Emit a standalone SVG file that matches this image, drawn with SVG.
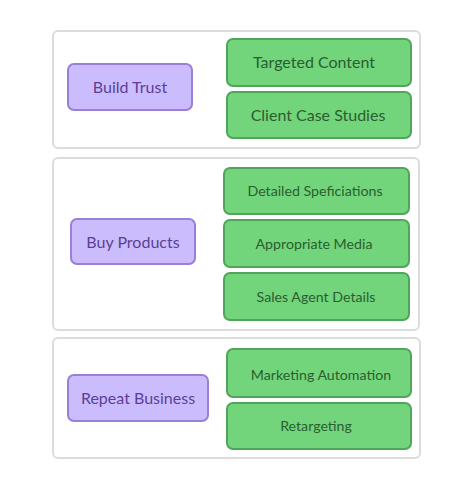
<svg xmlns="http://www.w3.org/2000/svg" width="474" height="489" viewBox="0 0 474 489">
<style>
.bg{fill:#ffffff}
.grp{fill:#ffffff;stroke:#dcdcdc;stroke-width:2}
.p{fill:#cbbdfd;stroke:#9a7fd6;stroke-width:2}
.g{fill:#72d47b;stroke:#4fa65a;stroke-width:2}
.pt{fill:#5b3f96;font-family:Lato,"Open Sans",sans-serif;font-size:16px;text-anchor:middle;dominant-baseline:central}
.gt{fill:#2b5e2f;font-family:Lato,"Open Sans",sans-serif;font-size:16px;text-anchor:middle;dominant-baseline:central}
.s{font-size:14.2px}
</style>
<rect class="bg" x="0" y="0" width="474" height="489"/>
<g id="group-build-trust">
<rect class="grp" x="53" y="31" width="367" height="117" rx="5"/>
</g>
<g id="group-buy-products">
<rect class="grp" x="53" y="158" width="366" height="172" rx="5"/>
</g>
<g id="group-repeat-business">
<rect class="grp" x="53" y="338" width="367" height="120" rx="5"/>
</g>
<g id="build-trust">
<rect class="p" x="68" y="64" width="124" height="46" rx="6"/>
<text class="pt" x="130" y="86.5">Build Trust</text>
</g>
<g id="targeted-content">
<rect class="g" x="227" y="39" width="184" height="47" rx="6"/>
<text class="gt" x="314" y="61.5">Targeted Content</text>
</g>
<g id="client-case-studies">
<rect class="g" x="227" y="92" width="184" height="46" rx="6"/>
<text class="gt" x="318" y="114.5">Client Case Studies</text>
</g>
<g id="buy-products">
<rect class="p" x="71" y="219" width="124" height="45" rx="6"/>
<text class="pt" x="133" y="241">Buy Products</text>
</g>
<g id="detailed-speficiations">
<rect class="g" x="224" y="168" width="185" height="46" rx="6"/>
<text class="gt s" x="315" y="190.5">Detailed Speficiations</text>
</g>
<g id="appropriate-media">
<rect class="g" x="224" y="220" width="185" height="47" rx="6"/>
<text class="gt s" x="314" y="243">Appropriate Media</text>
</g>
<g id="sales-agent-details">
<rect class="g" x="224" y="273" width="185" height="47" rx="6"/>
<text class="gt s" x="316" y="296">Sales Agent Details</text>
</g>
<g id="repeat-business">
<rect class="p" x="68" y="375" width="140" height="46" rx="6"/>
<text class="pt" x="138" y="397.5">Repeat Business</text>
</g>
<g id="marketing-automation">
<rect class="g" x="227" y="349" width="184" height="48" rx="6"/>
<text class="gt s" x="321" y="374">Marketing Automation</text>
</g>
<g id="retargeting">
<rect class="g" x="227" y="403" width="184" height="46" rx="6"/>
<text class="gt s" x="316" y="425.5">Retargeting</text>
</g>
<g id="connectors"></g>
</svg>
